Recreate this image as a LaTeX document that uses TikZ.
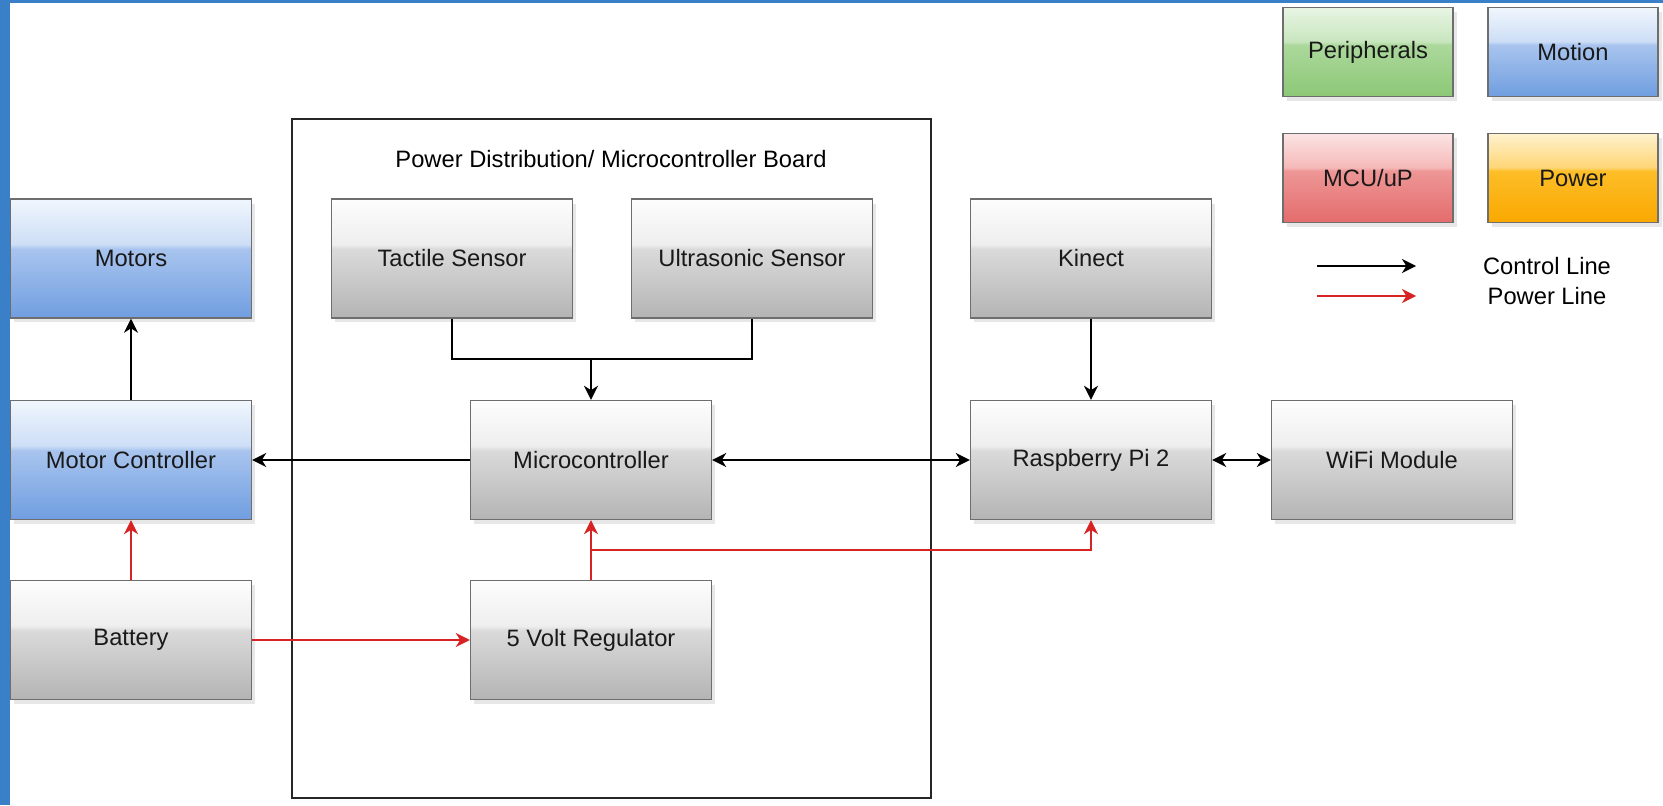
\documentclass[tikz,border=0pt]{standalone}
\usepackage{fontspec}
\setmainfont{Liberation Sans}
\usepackage{xcolor}
\usepackage{tikz}
\usetikzlibrary{
    arrows.meta,
    shadows,
    calc
}

\definecolor{framecol}{RGB}{58,128,200}
\definecolor{edgecol}{RGB}{110,110,110}
\definecolor{powerred}{RGB}{215,35,35}
% glass colours: bottom, below edge, above edge, top
\definecolor{gbot}{RGB}{180,180,180}
\definecolor{gmid}{RGB}{218,218,218}
\definecolor{gedg}{RGB}{238,238,238}
\definecolor{gtop}{RGB}{253,253,253}
\definecolor{bbot}{RGB}{112,158,224}
\definecolor{bmid}{RGB}{168,196,238}
\definecolor{bedg}{RGB}{205,222,246}
\definecolor{btop}{RGB}{240,246,253}
\definecolor{nbot}{RGB}{140,200,118}
\definecolor{nmid}{RGB}{172,216,156}
\definecolor{nedg}{RGB}{200,230,190}
\definecolor{ntop}{RGB}{232,245,228}
\definecolor{rbot}{RGB}{228,108,108}
\definecolor{rmid}{RGB}{238,150,150}
\definecolor{redg}{RGB}{245,185,185}
\definecolor{rtop}{RGB}{252,228,228}
\definecolor{obot}{RGB}{250,168,0}
\definecolor{omid}{RGB}{253,190,40}
\definecolor{oedg}{RGB}{255,214,120}
\definecolor{otop}{RGB}{255,242,205}

\pgfdeclareverticalshading{glassgray}{100bp}{color(0bp)=(gbot); color(25bp)=(gbot); color(54bp)=(gmid); color(56bp)=(gedg); color(75bp)=(gtop); color(100bp)=(gtop)}
\pgfdeclareverticalshading{glassblue}{100bp}{color(0bp)=(bbot); color(25bp)=(bbot); color(54bp)=(bmid); color(56bp)=(bedg); color(75bp)=(btop); color(100bp)=(btop)}
\pgfdeclareverticalshading{glassgreen}{100bp}{color(0bp)=(nbot); color(25bp)=(nbot); color(54bp)=(nmid); color(56bp)=(nedg); color(75bp)=(ntop); color(100bp)=(ntop)}
\pgfdeclareverticalshading{glassred}{100bp}{color(0bp)=(rbot); color(25bp)=(rbot); color(54bp)=(rmid); color(56bp)=(redg); color(75bp)=(rtop); color(100bp)=(rtop)}
\pgfdeclareverticalshading{glassorange}{100bp}{color(0bp)=(obot); color(25bp)=(obot); color(54bp)=(omid); color(56bp)=(oedg); color(75bp)=(otop); color(100bp)=(otop)}

\begin{document}
\begin{tikzpicture}[x=0.02cm,y=-0.02cm,>={Stealth[length=8pt,width=8pt,inset=2.5pt]},line width=1.1pt,font=\fontsize{13.5}{16}\selectfont]
    \tikzstyle{block}=[rectangle, draw=edgecol, line width=0.8pt, minimum width=4.82cm, minimum height=2.38cm, shading=glassgray, text=black!90, drop shadow={shadow xshift=0.07cm, shadow yshift=-0.09cm, fill=black!18}]
    \tikzstyle{motion}=[block, shading=glassblue]
    \tikzstyle{key}=[block, minimum width=3.4cm, minimum height=1.78cm]
    \tikzstyle{powerline}=[powerred, line width=0.9pt]
    \useasboundingbox (0,0) rectangle (1663,805);
    \fill [white] (0,0) rectangle (1663,805);
    \fill [framecol] (0,0) rectangle (10,805);
    \fill [framecol] (0,0) rectangle (1663,3);

    \node [draw=black!85, line width=1.1pt, minimum width=12.78cm, minimum height=13.58cm] (board) at (611.5,458.5) {};
    \node (title) at (611,159) {Power Distribution/ Microcontroller Board};

    \node [motion] (motors) at (131,258.5) {Motors};
    \node [motion] (motorctrl) at (131,460) {Motor Controller};
    \node [block] (battery) at (131,640) {Battery};

    \node [block] (tactile) at (452,258.5) {Tactile Sensor};
    \node [block] (ultra) at (752,258.5) {Ultrasonic Sensor};
    \node [block] (mcu) at (591,460) {Microcontroller};
    \node [block] (reg) at (591,640) {5 Volt Regulator};

    \node [block] (kinect) at (1091,258.5) {Kinect};
    \node [block] (rpi) at (1091,460) {Raspberry Pi 2};
    \node [block] (wifi) at (1392,460) {WiFi Module};

    % legend
    \node [key, shading=glassgreen] (kperiph) at (1368,52) {Peripherals};
    \node [key, shading=glassblue] (kmotion) at (1573,52) {Motion};
    \node [key, shading=glassred] (kmcu) at (1368,178) {MCU/uP};
    \node [key, shading=glassorange] (kpower) at (1573,178) {Power};
    \coordinate (kc0) at (1317,266);
    \coordinate (kc1) at (1416,266);
    \coordinate (kp0) at (1317,296);
    \coordinate (kp1) at (1416,296);
    \node (kctext) at (1547,266) {Control Line};
    \node (kptext) at (1547,296) {Power Line};
    \draw [->] (kc0) -- (kc1);
    \draw [->, powerline] (kp0) -- (kp1);

    % control lines
    \coordinate (sj) at ($(mcu.north)!0.5!(mcu.north |- tactile.south)$);
    \draw (tactile.south) |- (sj) -| (ultra.south);
    \draw [->] (sj) -- (mcu.north);
    \draw [->] (motorctrl) -- (motors);
    \draw [->] (mcu) -- (motorctrl);
    \draw [<->] (mcu) -- (rpi);
    \draw [<->] (rpi) -- (wifi);
    \draw [->] (kinect) -- (rpi);

    % power lines
    \coordinate (pj) at ($(reg.north)!0.5!(mcu.south)$);
    \draw [->, powerline] (battery) -- (motorctrl);
    \draw [->, powerline] (battery) -- (reg);
    \draw [->, powerline] (reg) -- (mcu);
    \draw [->, powerline] (pj) -| (rpi.south);
\end{tikzpicture}
\end{document}
